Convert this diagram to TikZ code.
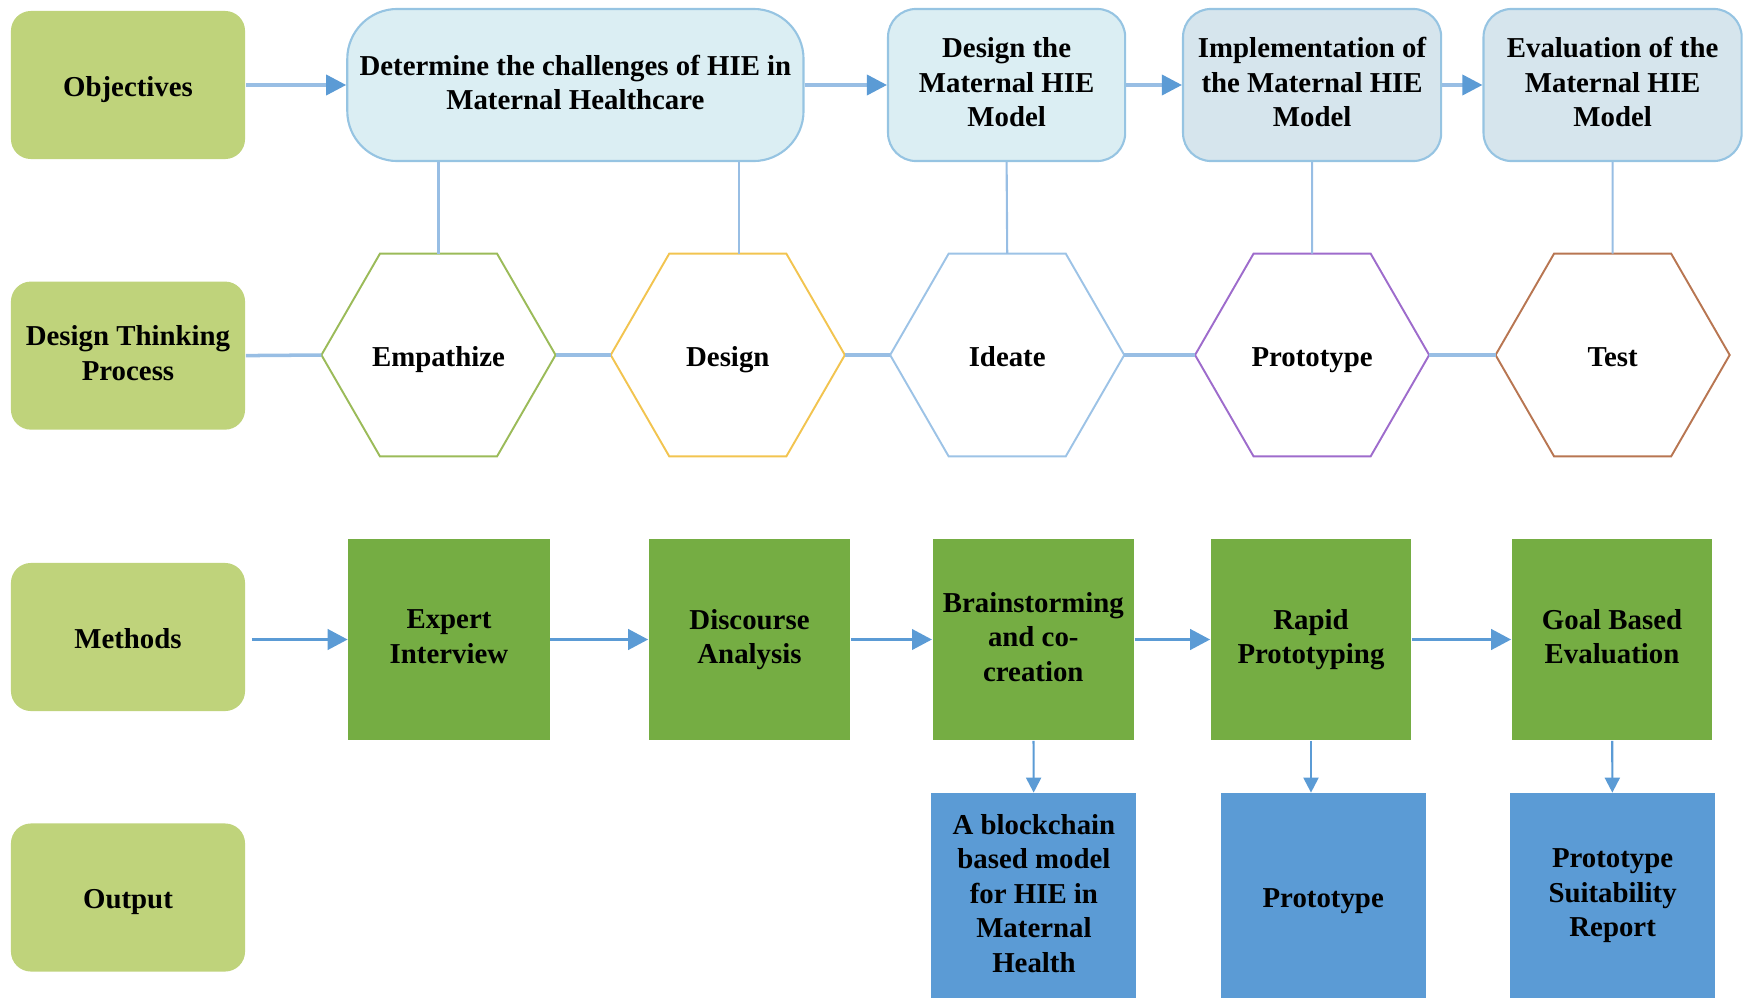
\documentclass[tikz,border=0pt]{standalone}
\usepackage{fontspec}
\setmainfont{Liberation Serif}
\usetikzlibrary{arrows.meta,shapes.geometric}
\definecolor{labgreen}{RGB}{191,211,123}
\definecolor{objfill}{RGB}{219,238,243}
\definecolor{objfilltwo}{RGB}{214,229,237}
\definecolor{objline}{RGB}{150,196,226}
\definecolor{linkblue}{RGB}{152,190,228}
\definecolor{arrowblue}{RGB}{91,155,213}
\definecolor{hexgreen}{RGB}{155,187,89}
\definecolor{hexgold}{RGB}{242,196,80}
\definecolor{hexblue}{RGB}{157,195,230}
\definecolor{hexpurple}{RGB}{158,108,204}
\definecolor{hexbrown}{RGB}{184,118,82}
\definecolor{methgreen}{RGB}{117,173,67}
\definecolor{outblue}{RGB}{91,155,213}
\begin{document}
\begin{tikzpicture}[x=0.01cm,y=-0.01cm,
    font=\fontsize{8.2}{9.8}\selectfont\bfseries,
    every node/.append style={execute at begin node=\rule{0pt}{8.2pt},execute at end node=\rule[-1.6pt]{0pt}{1.6pt}},
    lab/.style={fill=labgreen,rounded corners=2mm,minimum width=23.4mm,minimum height=14.8mm,align=center,inner sep=0},
    objbox/.style={draw=objline,line width=0.6pt,fill=objfill,minimum height=15.2mm,align=center,inner sep=0},
    hexa/.style={draw=#1,line width=0.55pt,regular polygon,regular polygon sides=6,minimum size=23.4mm,inner sep=0,outer sep=0},
    meth/.style={fill=methgreen,minimum width=20.1mm,minimum height=20.1mm,align=center,inner sep=0},
    outp/.style={fill=outblue,minimum width=20.5mm,minimum height=20.5mm,align=center,inner sep=0},
    arr/.style={draw=linkblue,line width=1pt,-{Triangle[length=2mm,width=2mm,color=arrowblue]}},
    marr/.style={draw=arrowblue,line width=1.1pt,-{Triangle[length=2mm,width=2mm]}},
    darr/.style={draw=arrowblue,line width=0.6pt,-{Triangle[length=1.5mm,width=1.5mm]}},
    vlink/.style={draw=linkblue,line width=0.6pt},
    hlink/.style={draw=linkblue,line width=1pt}]
    \useasboundingbox (0,0) rectangle (1745,1000);

    \node[lab] (objv) at (128,85) {Objectives};
    \node[lab] (dtp) at (128,355.6) {Design Thinking\\Process};
    \node[lab] (met) at (128,637) {Methods};
    \node[lab] (outl) at (128,897.5) {Output};

    \node[objbox,rounded corners=5mm,minimum width=45.6mm] (det) at (575.4,85) {Determine the challenges of HIE in\\Maternal Healthcare};
    \node[objbox,rounded corners=2.8mm,minimum width=23.7mm] (dsn) at (1006.6,85) {Design the\\Maternal HIE\\Model};
    \node[objbox,fill=objfilltwo,rounded corners=2.8mm,minimum width=25.8mm] (imp) at (1312.1,85) {Implementation of\\the Maternal HIE\\Model};
    \node[objbox,fill=objfilltwo,rounded corners=2.8mm,minimum width=25.8mm] (evl) at (1612.6,85) {Evaluation of the\\Maternal HIE\\Model};

    \node[hexa=hexgreen] (emp) at (438.5,355) {Empathize};
    \node[hexa=hexgold] (dsg) at (727.8,355) {Design};
    \node[hexa=hexblue] (ide) at (1007.2,355) {Ideate};
    \node[hexa=hexpurple] (pro) at (1312.1,355) {Prototype};
    \node[hexa=hexbrown] (tst) at (1612.6,355) {Test};

    \node[meth] (exp) at (449,639.5) {Expert\\Interview};
    \node[meth] (dis) at (749.5,639.5) {Discourse\\Analysis};
    \node[meth] (bra) at (1033.3,639.5) {Brainstorming\\and co-\\creation};
    \node[meth,minimum width=20mm] (rap) at (1311,639.5) {Rapid\\Prototyping};
    \node[meth,minimum width=20mm] (goa) at (1612,639.5) {Goal Based\\Evaluation};

    \node[outp] (blk) at (1033.9,895.9) {A blockchain\\based model\\for HIE in\\Maternal\\Health};
    \node[outp] (prt) at (1323.2,895.9) {Prototype};
    \node[outp] (psr) at (1612.6,895.9) {Prototype\\Suitability\\Report};

    \draw[arr] (objv) -- (det);
    \draw[arr] (det) -- (dsn);
    \draw[arr] (dsn) -- (imp);
    \draw[arr] (imp) -- (evl);

    \coordinate (dsgtop) at ([xshift=1.1mm]dsg.north);
    \draw[vlink] (det.south -| emp.north) -- (emp.north);
    \draw[vlink] (det.south -| dsgtop) -- (dsgtop);
    \draw[vlink] (dsn.south) -- (ide.north);
    \draw[vlink] (imp.south) -- (pro.north);
    \draw[vlink] (evl.south) -- (tst.north);

    \draw[hlink] (dtp.east) -- (emp.west);
    \draw[hlink] (emp.east) -- (dsg.west);
    \draw[hlink] (dsg.east) -- (ide.west);
    \draw[hlink] (ide.east) -- (pro.west);
    \draw[hlink] (pro.east) -- (tst.west);

    \draw[marr] ([xshift=0.6mm]met.east |- exp.west) -- (exp);
    \draw[marr] (exp) -- (dis);
    \draw[marr] (dis) -- (bra);
    \draw[marr] (bra) -- (rap);
    \draw[marr] (rap) -- (goa);

    \draw[darr] (bra) -- (blk);
    \draw[darr] (rap.south) -- (rap.south |- prt.north);
    \draw[darr] (goa) -- (psr);
\end{tikzpicture}
\end{document}
